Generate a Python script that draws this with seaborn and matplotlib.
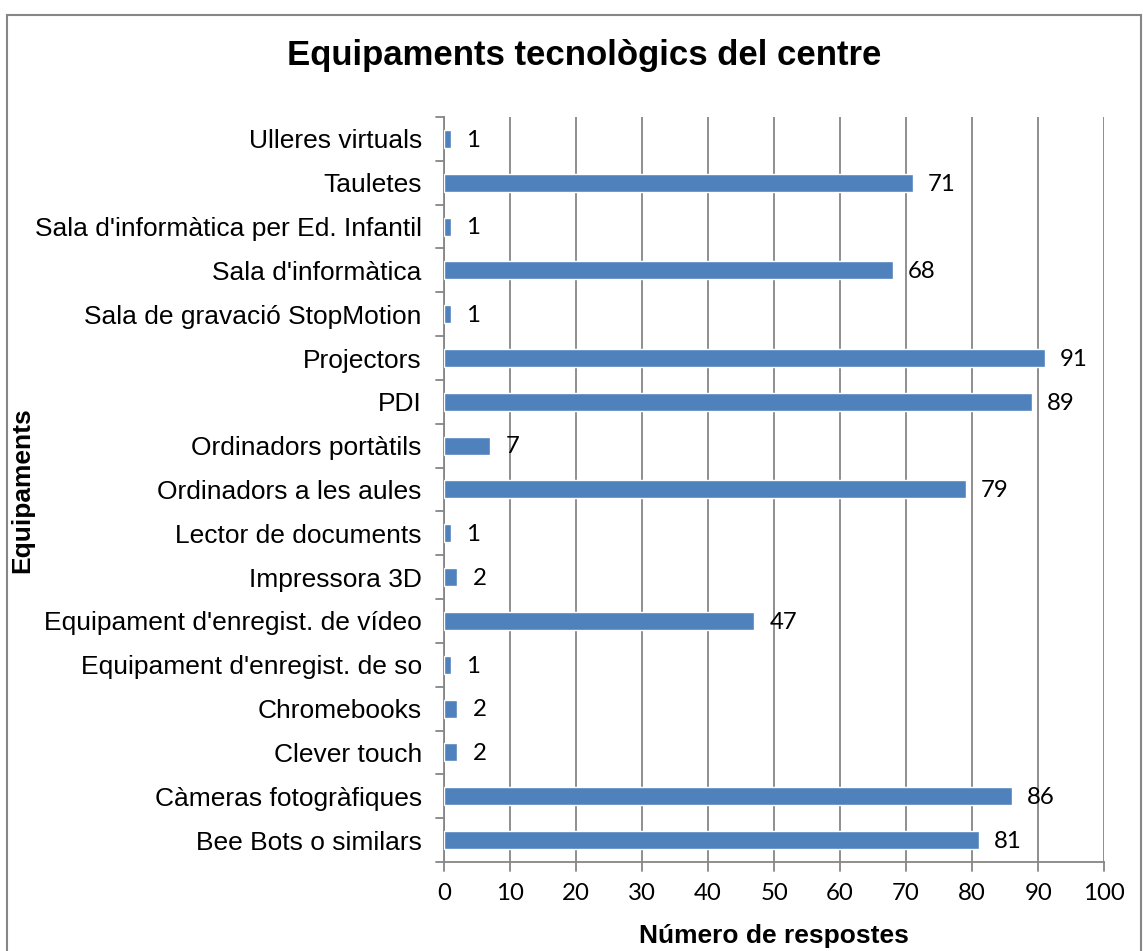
import matplotlib
matplotlib.use("Agg")
import matplotlib.pyplot as plt
import seaborn as sns
import pandas as pd
from matplotlib.patches import Rectangle

# data, top to bottom as in the chart
equipaments = [
    "Ulleres virtuals", "Tauletes", "Sala d'informàtica per Ed. Infantil",
    "Sala d'informàtica", "Sala de gravació StopMotion", "Projectors", "PDI",
    "Ordinadors portàtils", "Ordinadors a les aules", "Lector de documents",
    "Impressora 3D", "Equipament d'enregist. de vídeo",
    "Equipament d'enregist. de so", "Chromebooks", "Clever touch",
    "Càmeras fotogràfiques", "Bee Bots o similars",
]
respostes = [1, 71, 1, 68, 1, 91, 89, 7, 79, 1, 2, 47, 1, 2, 2, 86, 81]
x_ticks = list(range(0, 101, 10))

df = pd.DataFrame({"Equipament": equipaments, "Respostes": respostes})

sns.set_style("white")
plt.rcParams["font.family"] = ["Liberation Sans", "DejaVu Sans"]
plt.rcParams["text.color"] = "black"
plt.rcParams["xtick.color"] = "black"
plt.rcParams["ytick.color"] = "black"
plt.rcParams["axes.labelcolor"] = "black"

fig = plt.figure(figsize=(11.48, 9.51), dpi=100)
ax = fig.add_axes([0.3868, 0.0936, 0.575, 0.7834])

grid_col = "#868686"
bar_col = "#4F81BD"

sns.barplot(data=df, x="Respostes", y="Equipament", order=equipaments,
            color=bar_col, width=0.41, saturation=1, ax=ax, zorder=3)

ax.set_xlim(0, 100)
ax.set_ylim(len(equipaments) - 0.5, -0.5)
ax.set_xticks(x_ticks)
ax.set_xticklabels([str(t) for t in x_ticks], family="Lato", fontsize=17.3)
ax.tick_params(axis="y", labelsize=19, length=0, pad=16, labelcolor="black")
ax.tick_params(axis="x", length=0, pad=15, labelcolor="black")

# vertical gridlines and tick marks
for t in x_ticks:
    ax.axvline(t, color=grid_col, lw=1.3, zorder=1)
    ax.plot([t, t], [0, -0.012], transform=ax.get_xaxis_transform(),
            color=grid_col, lw=1.3, clip_on=False)
# y-axis tick marks between categories
for b in range(len(equipaments) + 1):
    ax.plot([-0.012, 0], [b - 0.5, b - 0.5],
            transform=ax.get_yaxis_transform(),
            color=grid_col, lw=1.3, clip_on=False)

for s in ["top", "right"]:
    ax.spines[s].set_visible(False)
for s in ["left", "bottom"]:
    ax.spines[s].set_color(grid_col)
    ax.spines[s].set_linewidth(1.3)

for i, v in enumerate(respostes):
    ax.text(v + 2.3, i + 0.03, str(v), va="center", ha="left",
            family="Lato", fontsize=17.3, color="black", zorder=4)

ax.set_xlabel("")
ax.set_ylabel("")
fig.text(0.674, 0.016, "Número de respostes", ha="center", va="center",
         fontsize=19, fontweight="bold", color="black")
fig.text(0.019, 0.485, "Equipaments", rotation=90, va="center", ha="center",
         fontsize=19, fontweight="bold", color="black")
fig.text(0.509, 0.942, "Equipaments tecnològics del centre", ha="center",
         va="center", fontsize=25, fontweight="bold", color="black")

fig.patches.append(Rectangle((0.006, -0.05), 0.988, 1.034,
                             transform=fig.transFigure, fill=False,
                             edgecolor=grid_col, lw=1.5))

fig.savefig("out.png", dpi=100)
